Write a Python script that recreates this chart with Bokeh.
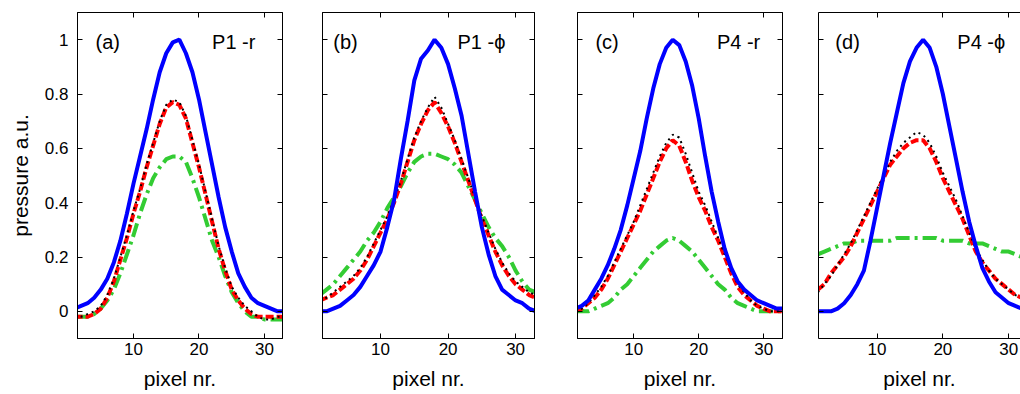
from bokeh.plotting import figure
from bokeh.layouts import row
from bokeh.models import Range1d, LinearAxis, FixedTicker, CustomJSTickFormatter, Label
from bokeh.embed import file_html
from bokeh.resources import INLINE

pixel = list(range(1, 34))

# ---- panel (a) P1 -r
a_blue = [0.01, 0.02, 0.03, 0.05, 0.08, 0.12, 0.18, 0.26, 0.36, 0.47, 0.57, 0.67, 0.78, 0.88, 0.95, 0.99, 1.0,
          0.95, 0.88, 0.78, 0.66, 0.54, 0.42, 0.31, 0.22, 0.14, 0.09, 0.05, 0.03, 0.02, 0.01, 0.0, 0.0]
a_black = [-0.02, -0.02, -0.01, 0.0, 0.02, 0.06, 0.12, 0.2, 0.28, 0.37, 0.45, 0.54, 0.62, 0.7, 0.76, 0.78, 0.77,
           0.72, 0.63, 0.54, 0.44, 0.34, 0.24, 0.16, 0.09, 0.05, 0.02, 0.0, -0.02, -0.03, -0.03, -0.02, -0.02]
a_red = [-0.02, -0.02, -0.02, -0.01, 0.01, 0.05, 0.11, 0.19, 0.27, 0.36, 0.44, 0.53, 0.61, 0.69, 0.75, 0.77, 0.76,
         0.71, 0.62, 0.53, 0.43, 0.33, 0.23, 0.15, 0.08, 0.04, 0.01, -0.01, -0.02, -0.02, -0.02, -0.02, -0.02]
a_green = [-0.02, -0.02, -0.02, -0.01, 0.01, 0.04, 0.08, 0.14, 0.21, 0.28, 0.36, 0.43, 0.49, 0.53, 0.56, 0.57, 0.57,
           0.55, 0.49, 0.42, 0.34, 0.26, 0.2, 0.13, 0.07, 0.03, 0.0, -0.02, -0.02, -0.03, -0.03, -0.03, -0.03]

# ---- panel (b) P1 -phi
b_blue = [0.0, 0.0, 0.01, 0.02, 0.04, 0.06, 0.09, 0.13, 0.17, 0.22, 0.31, 0.41, 0.56, 0.7, 0.85, 0.93, 0.96,
          1.0, 0.97, 0.91, 0.82, 0.72, 0.58, 0.44, 0.31, 0.21, 0.13, 0.08, 0.06, 0.04, 0.03, 0.01, 0.0]
b_black = [0.04, 0.05, 0.07, 0.09, 0.11, 0.13, 0.16, 0.2, 0.25, 0.3, 0.35, 0.41, 0.48, 0.56, 0.64, 0.7, 0.75,
           0.79, 0.75, 0.69, 0.63, 0.56, 0.49, 0.42, 0.35, 0.29, 0.23, 0.18, 0.14, 0.11, 0.09, 0.07, 0.06]
b_red = [0.04, 0.05, 0.06, 0.08, 0.1, 0.12, 0.15, 0.19, 0.24, 0.29, 0.34, 0.4, 0.47, 0.55, 0.63, 0.69, 0.74,
         0.77, 0.73, 0.68, 0.62, 0.55, 0.48, 0.41, 0.34, 0.28, 0.22, 0.17, 0.13, 0.1, 0.08, 0.06, 0.05]
b_green = [0.06, 0.08, 0.1, 0.13, 0.16, 0.19, 0.22, 0.26, 0.29, 0.33, 0.38, 0.42, 0.46, 0.51, 0.55, 0.57, 0.58,
           0.58, 0.57, 0.56, 0.54, 0.51, 0.46, 0.41, 0.36, 0.31, 0.27, 0.24, 0.2, 0.15, 0.11, 0.08, 0.07]

# ---- panel (c) P4 -r
c_blue = [0.01, 0.02, 0.04, 0.08, 0.12, 0.17, 0.23, 0.3, 0.39, 0.49, 0.59, 0.71, 0.82, 0.91, 0.97, 1.0, 0.98,
          0.92, 0.83, 0.71, 0.57, 0.44, 0.33, 0.23, 0.16, 0.11, 0.08, 0.06, 0.04, 0.03, 0.02, 0.01, 0.01]
c_black = [0.0, 0.01, 0.03, 0.06, 0.09, 0.13, 0.18, 0.23, 0.28, 0.33, 0.39, 0.45, 0.51, 0.57, 0.62, 0.65, 0.64,
           0.58, 0.51, 0.44, 0.39, 0.33, 0.27, 0.21, 0.15, 0.1, 0.07, 0.04, 0.02, 0.01, 0.0, 0.0, 0.0]
c_red = [0.0, 0.01, 0.03, 0.05, 0.08, 0.12, 0.17, 0.22, 0.27, 0.32, 0.37, 0.43, 0.49, 0.55, 0.6, 0.63, 0.61,
         0.55, 0.48, 0.42, 0.37, 0.31, 0.26, 0.2, 0.14, 0.09, 0.06, 0.04, 0.02, 0.01, 0.0, 0.0, 0.0]
c_green = [0.0, 0.0, 0.0, 0.01, 0.02, 0.03, 0.05, 0.08, 0.1, 0.13, 0.16, 0.19, 0.22, 0.24, 0.26, 0.27, 0.26,
           0.24, 0.22, 0.19, 0.16, 0.13, 0.1, 0.08, 0.05, 0.03, 0.02, 0.01, 0.0, 0.0, 0.0, 0.0, 0.0]

# ---- panel (d) P4 -phi
d_blue = [0.0, 0.0, 0.0, 0.01, 0.03, 0.06, 0.1, 0.15, 0.26, 0.38, 0.5, 0.62, 0.73, 0.84, 0.92, 0.97, 1.0,
          0.97, 0.9, 0.8, 0.68, 0.56, 0.44, 0.33, 0.24, 0.16, 0.11, 0.07, 0.05, 0.03, 0.02, 0.01, 0.0]
d_black = [0.07, 0.1, 0.13, 0.17, 0.21, 0.25, 0.3, 0.35, 0.4, 0.45, 0.5, 0.55, 0.59, 0.62, 0.64, 0.66, 0.65,
           0.62, 0.57, 0.51, 0.46, 0.41, 0.35, 0.29, 0.23, 0.19, 0.15, 0.12, 0.1, 0.08, 0.06, 0.05, 0.04]
d_red = [0.08, 0.1, 0.14, 0.17, 0.2, 0.24, 0.29, 0.34, 0.39, 0.44, 0.49, 0.54, 0.57, 0.6, 0.62, 0.63, 0.63,
         0.6, 0.55, 0.49, 0.44, 0.39, 0.34, 0.28, 0.22, 0.18, 0.15, 0.12, 0.1, 0.08, 0.06, 0.05, 0.04]
d_green = [0.21, 0.22, 0.23, 0.24, 0.25, 0.25, 0.26, 0.26, 0.26, 0.26, 0.26, 0.26, 0.27, 0.27, 0.27, 0.27, 0.27,
           0.27, 0.27, 0.26, 0.26, 0.26, 0.26, 0.25, 0.25, 0.25, 0.24, 0.23, 0.22, 0.22, 0.21, 0.2, 0.19]

y_ticks = [0, 0.2, 0.4, 0.6, 0.8, 1]
x_ticks = [10, 20, 30]
panel_tags = ["(a)", "(b)", "(c)", "(d)"]
panel_titles = ["P1 -r", "P1 -\u03d5", "P4 -r", "P4 -\u03d5"]

FONT = "Liberation Sans"
STYLES = {
    "green": dict(line_color="#33cc33", line_width=4, line_dash="14 5 3 5"),
    "red": dict(line_color="#ff0000", line_width=4, line_dash="8 3"),
    "black": dict(line_color="#000000", line_width=2, line_dash="2 4"),
    "blue": dict(line_color="#0000ff", line_width=4),
}

label_fmt = CustomJSTickFormatter(code="return String(Math.round(tick*10)/10);")


def blank_fmt():
    return CustomJSTickFormatter(code="return '';")


def style_axis(ax):
    ax.major_tick_in = 5
    ax.major_tick_out = 0
    ax.minor_tick_line_color = None
    ax.axis_line_color = "black"
    ax.major_tick_line_color = "black"
    ax.major_label_text_font = FONT
    ax.major_label_text_font_size = "17px"
    ax.major_label_text_color = "black"
    ax.axis_label_text_font = FONT
    ax.axis_label_text_font_size = "21px"
    ax.axis_label_text_font_style = "normal"
    ax.axis_label_text_color = "black"


def panel(idx, series, xr, width, bl, br, ylabels, right_edge, tag_x, title_x):
    p = figure(width=width, height=394, x_range=Range1d(*xr), y_range=Range1d(-0.1, 1.1),
               output_backend="svg", toolbar_location=None,
               x_axis_location=None, y_axis_location=None,
               min_border_left=bl, min_border_right=br, min_border_top=12, min_border_bottom=56)
    p.grid.visible = False
    p.background_fill_color = "white"
    p.border_fill_color = "white"
    p.outline_line_color = "black" if right_edge else None

    left = LinearAxis(ticker=FixedTicker(ticks=y_ticks),
                      formatter=label_fmt if ylabels else blank_fmt())
    style_axis(left)
    if ylabels:
        left.axis_label = "pressure a.u."
        left.major_label_standoff = 9
        left.axis_label_standoff = 10
    else:
        left.major_label_standoff = 0
    p.add_layout(left, "left")

    below = LinearAxis(ticker=FixedTicker(ticks=x_ticks), axis_label="pixel nr.")
    style_axis(below)
    below.major_label_standoff = 4
    below.axis_label_standoff = 9
    p.add_layout(below, "below")

    above = LinearAxis(ticker=FixedTicker(ticks=x_ticks), formatter=blank_fmt())
    style_axis(above)
    above.major_label_standoff = 0
    p.add_layout(above, "above")

    if right_edge:
        right = LinearAxis(ticker=FixedTicker(ticks=y_ticks), formatter=blank_fmt())
        style_axis(right)
        right.major_label_standoff = 0
        p.add_layout(right, "right")

    for key in ["green", "red", "black", "blue"]:
        p.line(pixel, series[key], **STYLES[key])

    p.add_layout(Label(x=tag_x, y=0.99, text=panel_tags[idx], text_font=FONT, text_font_size="20px",
                       text_baseline="middle", text_align="left", text_color="black"))
    p.add_layout(Label(x=title_x, y=0.99, text=panel_titles[idx], text_font=FONT, text_font_size="20px",
                       text_baseline="middle", text_align="left", text_color="black"))
    return p


pa = panel(0, dict(blue=a_blue, black=a_black, red=a_red, green=a_green), (1.45, 32.75), 300, 77, 18, True, True, 4.2, 22.0)
pb = panel(1, dict(blue=b_blue, black=b_black, red=b_red, green=b_green), (1.4, 32.8), 255, 22, 21, False, True, 3.0, 21.4)
pc = panel(2, dict(blue=c_blue, black=c_black, red=c_red, green=c_green), (1.34, 32.9), 245, 22, 18, False, True, 4.1, 22.8)
pd = panel(3, dict(blue=d_blue, black=d_black, red=d_red, green=d_green), (1.1, 31.8), 220, 18, 0, False, False, 3.66, 22.2)

layout = row(pa, pb, pc, pd, spacing=0)
open("out.html", "w").write(file_html(layout, INLINE))
